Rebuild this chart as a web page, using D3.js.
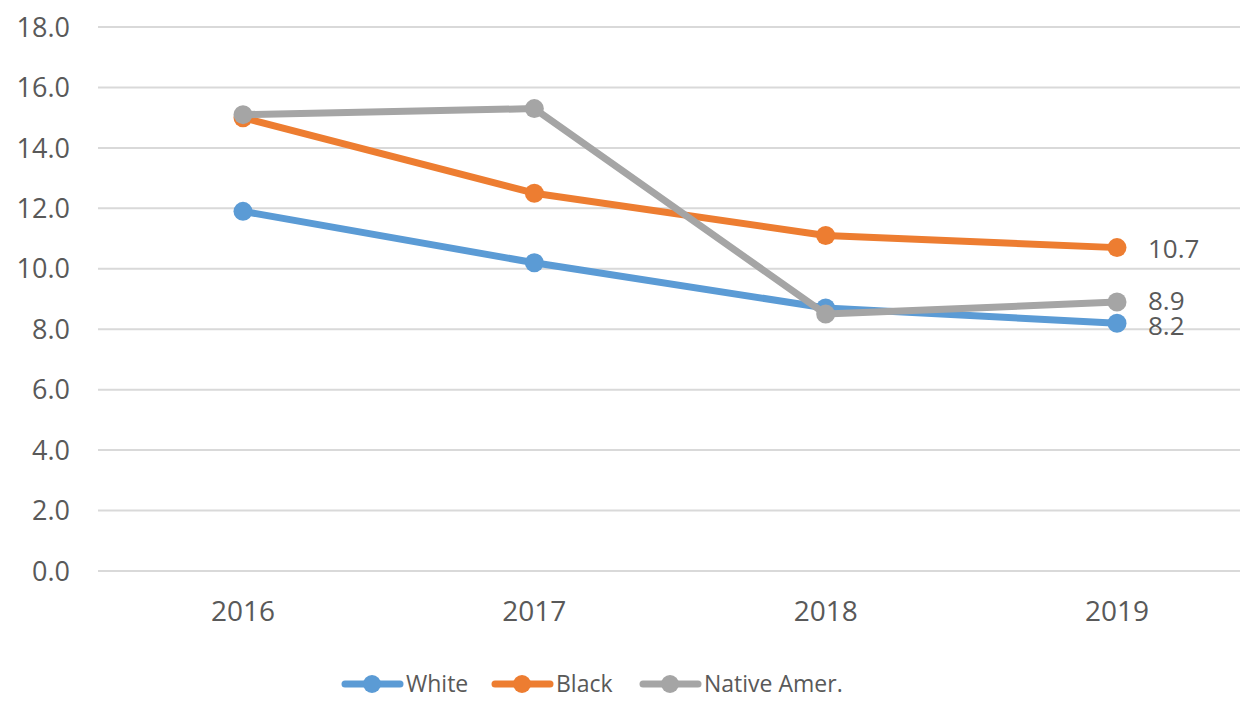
<!DOCTYPE html>
<html>
<head>
<meta charset="utf-8">
<script src="https://cdn.jsdelivr.net/npm/d3@7"></script>
<style>
  body { margin: 0; background: #fff; }
  text { font-family: "Open Sans", sans-serif; fill: #595959; }
</style>
</head>
<body>
<svg id="chart" width="1252" height="704"></svg>
<script>
// chart data
const years = ["2016", "2017", "2018", "2019"];
const white = [11.9, 10.2, 8.7, 8.2];
const black = [15.0, 12.5, 11.1, 10.7];
const nativeAmer = [15.1, 15.3, 8.5, 8.9];
const yTicks = [0, 2, 4, 6, 8, 10, 12, 14, 16, 18];

const series = [
  { name: "White", values: white, color: "#5B9BD5" },
  { name: "Black", values: black, color: "#ED7D31" },
  { name: "Native Amer.", values: nativeAmer, color: "#A5A5A5" }
];

const svg = d3.select("#chart");

const x = d3.scalePoint()
  .domain(years)
  .range([243, 1117]);

const y = d3.scaleLinear()
  .domain([0, 18])
  .range([571, 27]);

// gridlines
svg.append("g")
  .selectAll("line")
  .data(yTicks)
  .join("line")
  .attr("x1", 98)
  .attr("x2", 1240)
  .attr("y1", d => y(d))
  .attr("y2", d => y(d))
  .attr("stroke", "#d9d9d9")
  .attr("stroke-width", 2);

// y tick labels
svg.append("g")
  .selectAll("text")
  .data(yTicks)
  .join("text")
  .attr("x", 70)
  .attr("y", d => y(d))
  .attr("dy", "0.36em")
  .attr("text-anchor", "end")
  .style("font-size", "27px")
  .text(d => d.toFixed(1));

// x labels
svg.append("g")
  .selectAll("text")
  .data(years)
  .join("text")
  .attr("x", d => x(d))
  .attr("y", 611)
  .attr("dy", "0.36em")
  .attr("text-anchor", "middle")
  .style("font-size", "28px")
  .text(d => d);

const line = d3.line()
  .x((d, i) => x(years[i]))
  .y(d => y(d));

for (let k = 0; k < series.length; k++) {
  let s = series[k];
  let g = svg.append("g");
  g.append("path")
    .datum(s.values)
    .attr("d", line)
    .attr("fill", "none")
    .attr("stroke", s.color)
    .attr("stroke-width", 7)
    .attr("stroke-linejoin", "round");
  g.selectAll("circle")
    .data(s.values)
    .join("circle")
    .attr("cx", (d, i) => x(years[i]))
    .attr("cy", d => y(d))
    .attr("r", 9.5)
    .attr("fill", s.color);
}

// end value labels (8.9 / 8.2 sit very close, nudged apart a little)
const labelNudge = [2, 1, -1];
for (let k = 0; k < series.length; k++) {
  let v = series[k].values[series[k].values.length - 1];
  svg.append("text")
    .attr("x", x(years[years.length - 1]) + 31)
    .attr("y", y(v) + labelNudge[k])
    .attr("dy", "0.36em")
    .style("font-size", "26px")
    .text(v.toFixed(1));
}

// legend
const legendX = [372, 522, 670];
const legend = svg.append("g");
for (let k = 0; k < series.length; k++) {
  let s = series[k];
  let cx = legendX[k];
  legend.append("line")
    .attr("x1", cx - 27)
    .attr("x2", cx + 28)
    .attr("y1", 684)
    .attr("y2", 684)
    .attr("stroke", s.color)
    .attr("stroke-width", 7)
    .attr("stroke-linecap", "round");
  legend.append("circle")
    .attr("cx", cx)
    .attr("cy", 684)
    .attr("r", 9)
    .attr("fill", s.color);
  legend.append("text")
    .attr("x", cx + 34)
    .attr("y", 684)
    .attr("dy", "0.36em")
    .style("font-size", "23px")
    .text(s.name);
}
</script>
</body>
</html>
